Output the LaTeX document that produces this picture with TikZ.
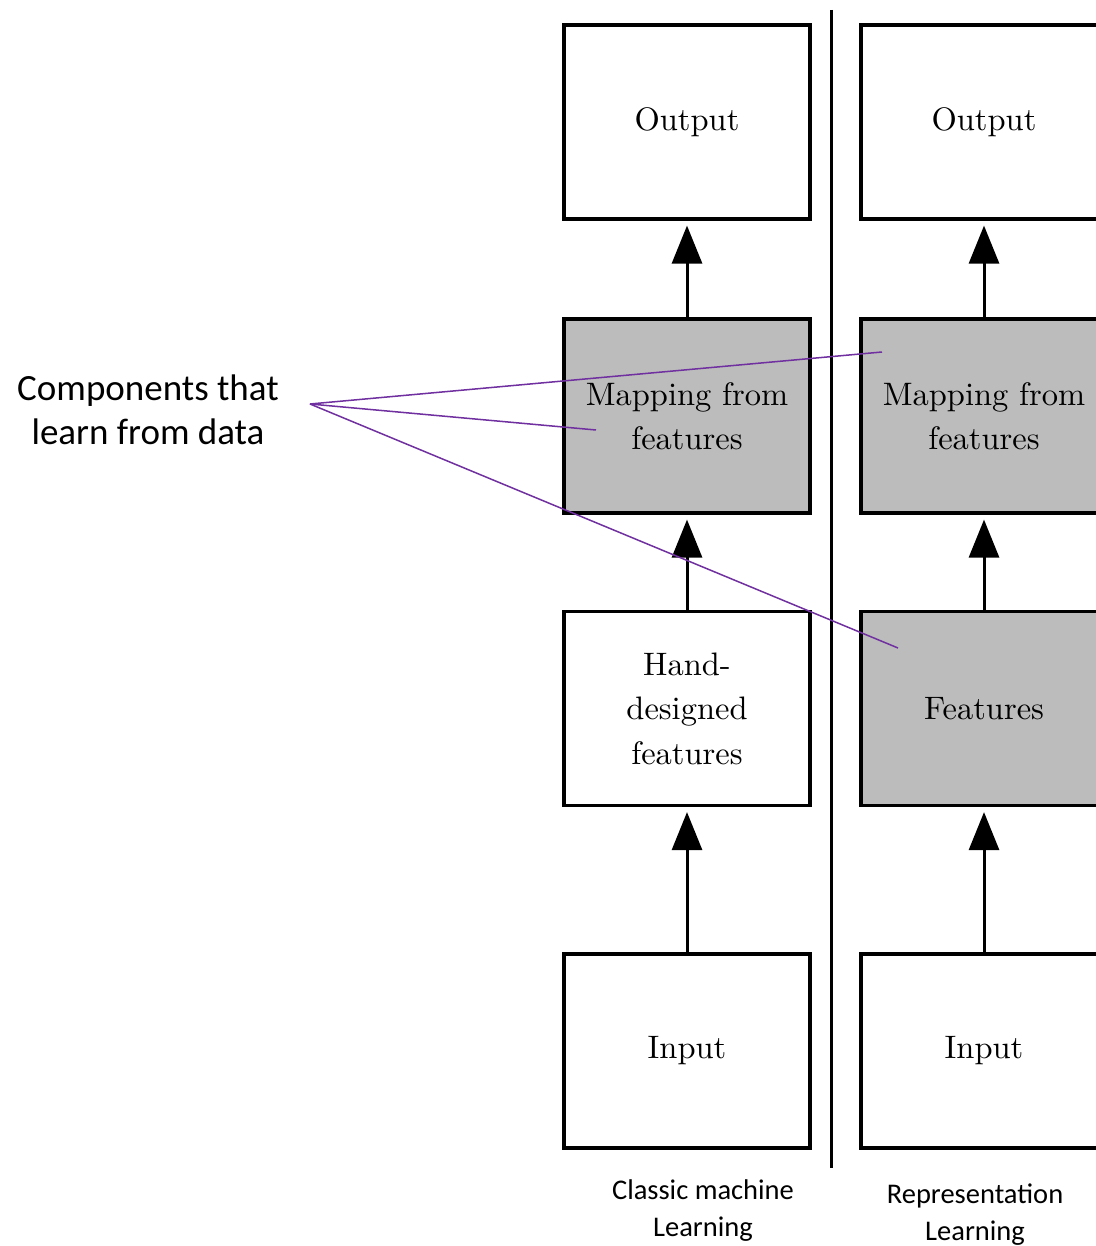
\documentclass[tikz,border=0pt]{standalone}
\usepackage{fontspec}
\newfontfamily\calib{Carlito}
\newfontfamily\lmten{lmroman10-regular}[Extension=.otf]
\usetikzlibrary{arrows.meta}
\definecolor{lgray}{RGB}{188,188,188}
\definecolor{lpurple}{RGB}{112,48,160}
\begin{document}
\begin{tikzpicture}[x=1pt,y=-1pt,
  box/.style={draw=black,line width=3.2pt,minimum width=246pt,minimum height=194pt,inner sep=0pt,align=center,font=\lmten\fontsize{32.5}{44.5}\selectfont},
  learned/.style={box,fill=lgray},
  flow/.style={line width=3pt,-{Triangle[length=38pt,width=30pt]},shorten >=5pt},
  pointer/.style={draw=lpurple,line width=1.5pt},
  note/.style={inner sep=0pt,align=center,font=\calib\fontsize{37}{44}\selectfont},
  caption/.style={inner sep=0pt,align=center,font=\calib\fontsize{28.5}{37}\selectfont}]
\useasboundingbox (0,0) rectangle (1095,1246);
% left column
\node[box] (oL) at (687,122) {Output};
\node[learned] (mL) at (687,416) {Mapping from\\features};
\node[box] (hL) at (687,708.5) {Hand-\\designed\\features};
\node[box] (iL) at (687,1051) {Input};
% right column
\node[box] (oR) at (984,122) {Output};
\node[learned] (mR) at (984,416) {Mapping from\\features};
\node[learned] (fR) at (984,708.5) {Features};
\node[box] (iR) at (984,1051) {Input};
% arrows
\draw[flow] (mL.north) -- (oL.south);
\draw[flow] (hL.north) -- (mL.south);
\draw[flow] (iL.north) -- (hL.south);
\draw[flow] (mR.north) -- (oR.south);
\draw[flow] (fR.north) -- (mR.south);
\draw[flow] (iR.north) -- (fR.south);
% divider
\coordinate (dtop) at (831,10);
\coordinate (dbot) at (831,1168);
\draw[line width=3pt] (dtop) -- (dbot);
% annotation
\node[note] (comp) at (148,410) {Components that\\learn from data};
\coordinate (src) at (310,404);
\coordinate (pA) at (882,352);
\coordinate (pB) at (596,430);
\coordinate (pC) at (898,648);
\draw[pointer] (src) -- (pA);
\draw[pointer] (src) -- (pB);
\draw[pointer] (src) -- (pC);
% captions
\node[caption] (capL) at (703,1211) {Classic machine\\Learning};
\node[caption] (capR) at (975,1215) {Representation\\Learning};
\end{tikzpicture}
\end{document}
